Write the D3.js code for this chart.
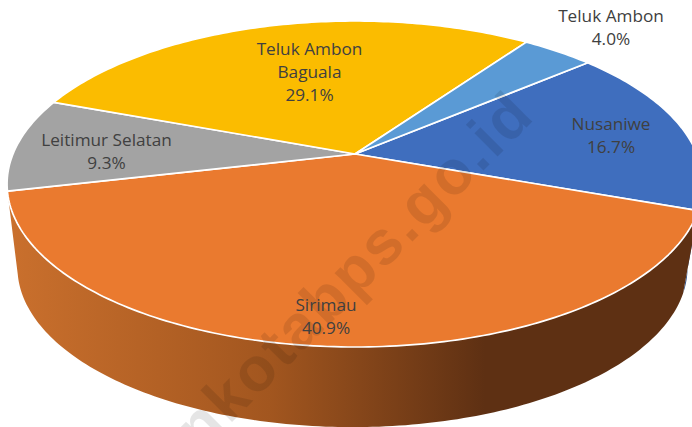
<!DOCTYPE html>
<html>
<head>
<meta charset="utf-8">
<script src="https://cdn.jsdelivr.net/npm/d3@7"></script>
<style>
  html, body { margin: 0; padding: 0; background: #fff; }
  svg { display: block; }
  text { font-family: "Open Sans", "Noto Sans", sans-serif; }
</style>
</head>
<body>
<svg id="chart" width="692" height="427"></svg>
<script>
var categories = ['Nusaniwe', 'Sirimau', 'Leitimur Selatan', 'Teluk Ambon Baguala', 'Teluk Ambon'];
var shares = [16.7, 40.9, 9.3, 29.1, 4.0];
var sliceColors = ['#3F6EBE', '#EA7A2F', '#A3A3A3', '#FBBC00', '#5A9AD5'];
var labelLines = [['Nusaniwe'], ['Sirimau'], ['Leitimur Selatan'], ['Teluk Ambon', 'Baguala'], ['Teluk Ambon']];
var watermark = 'ambonkotabps.go.id';

var apex = [355, 154];
var radiusX = 342;
var radiusY = 157.5;
var tilt = 0.184;
// Lower rim of the pie wall, a bit smaller than the top because of the perspective.
var wallDrop = 84;
var wallShift = -2.5;
var wallScaleX = 0.963;
var wallScaleY = 0.98;

var svg = d3.select('#chart');

var pie = d3.pie()
  .sort(null)
  .startAngle(49.6 * Math.PI / 180)
  .endAngle((49.6 + 360) * Math.PI / 180);
var slices = pie(shares);

// Angle is clockwise from 12 o'clock, same as d3.pie.
function rimPoint(angle) {
  var ux = Math.sin(angle);
  var uy = -Math.cos(angle);
  var s = 1 / (1 - tilt * uy);
  return [apex[0] + radiusX * ux * s, apex[1] + radiusY * uy * s];
}

function lowerRimPoint(angle) {
  var ux = Math.sin(angle);
  var uy = -Math.cos(angle);
  var s = 1 / (1 - tilt * uy);
  return [
    apex[0] + wallShift + radiusX * ux * s * wallScaleX,
    apex[1] + wallDrop + radiusY * uy * s * wallScaleY
  ];
}

function arcSamples(a0, a1) {
  var n = Math.max(2, Math.ceil((a1 - a0) * 60));
  return d3.range(n + 1).map(function(i) {
    return a0 + (a1 - a0) * i / n;
  });
}

function wallPath(a0, a1) {
  var angles = arcSamples(a0, a1);
  var upper = angles.map(rimPoint);
  var lower = angles.slice().reverse().map(lowerRimPoint);
  return line(upper.concat(lower)) + 'Z';
}

var line = d3.line();

var defs = svg.append('defs');
var wallGradient = defs.append('linearGradient')
  .attr('id', 'wall')
  .attr('gradientUnits', 'userSpaceOnUse')
  .attr('x1', 7).attr('x2', 485).attr('y1', 0).attr('y2', 0);
wallGradient.append('stop').attr('offset', 0).attr('stop-color', '#CA702D');
wallGradient.append('stop').attr('offset', 0.55).attr('stop-color', '#A2561F');
wallGradient.append('stop').attr('offset', 1).attr('stop-color', '#5E3013');

// Only the sliver of the Nusaniwe wall shows at the right edge.
svg.append('path')
  .attr('d', wallPath(slices[0].endAngle - 0.25, slices[0].endAngle))
  .attr('fill', '#2F4F87');

svg.append('path')
  .attr('d', wallPath(slices[1].startAngle, slices[1].endAngle))
  .attr('fill', 'url(#wall)');

svg.append('g')
  .selectAll('path')
  .data(slices)
  .join('path')
  .attr('d', function(d) {
    var rim = arcSamples(d.startAngle, d.endAngle).map(rimPoint);
    return line([apex].concat(rim)) + 'Z';
  })
  .attr('fill', function(d, i) { return sliceColors[i]; })
  .attr('stroke', '#fff')
  .attr('stroke-width', 1.7)
  .attr('stroke-linejoin', 'round');

// Watermark sits over the pie and runs off the bottom edge like the original.
svg.append('text')
  .attr('transform', 'translate(537,117) rotate(-45)')
  .attr('text-anchor', 'end')
  .style('font-family', '"Liberation Sans", Arial, sans-serif')
  .style('letter-spacing', '2.5px')
  .attr('font-size', 62)
  .attr('font-weight', 700)
  .attr('fill', '#000')
  .attr('fill-opacity', 0.1)
  .text(watermark);

var labelPos = [
  [611, 130],
  [326, 311],
  [106.5, 146],
  [309.5, 55],
  [611, 22]
];

var labels = svg.append('g')
  .selectAll('text')
  .data(slices)
  .join('text')
  .attr('text-anchor', 'middle')
  .attr('font-size', 17.2)
  .attr('fill', '#404040')
  .attr('x', function(d, i) { return labelPos[i][0]; })
  .attr('y', function(d, i) { return labelPos[i][1]; });

labels.each(function(d, i) {
  var rows = labelLines[i].concat(d3.format('.1f')(shares[i]) + '%');
  d3.select(this).selectAll('tspan')
    .data(rows)
    .join('tspan')
    .attr('x', labelPos[i][0])
    .attr('dy', function(r, j) { return j ? 23 : 0; })
    .text(function(r) { return r; });
});
</script>
</body>
</html>
